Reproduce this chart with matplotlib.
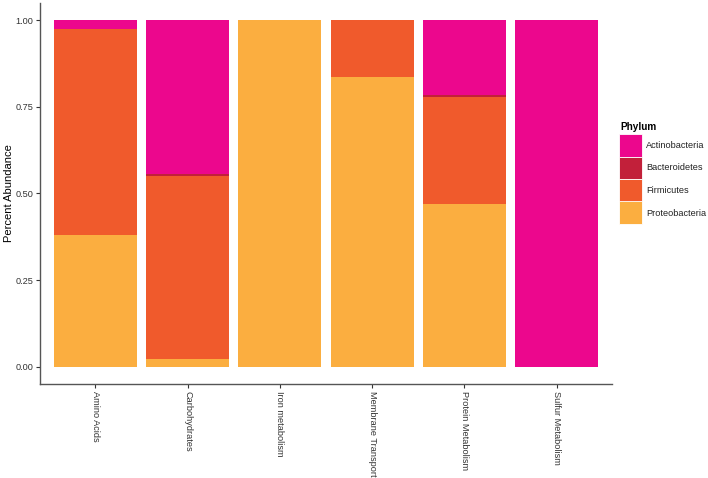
import numpy as np
import matplotlib
matplotlib.use('Agg')
import matplotlib.pyplot as plt
from matplotlib.patches import Rectangle

plt.rcParams['font.family'] = ['Liberation Sans', 'DejaVu Sans']

categories = ['Amino Acids', 'Carbohydrates', 'Iron metabolism',
              'Membrane Transport', 'Protein Metabolism', 'Sulfur Metabolism']
phyla = ['Actinobacteria', 'Bacteroidetes', 'Firmicutes', 'Proteobacteria']

# fractions per category, stacked bottom -> top: Proteo, Firmicutes, Bacteroidetes, Actino
proteobacteria = [0.38, 0.022, 1.0, 0.835, 0.47, 0.0]
firmicutes = [0.595, 0.528, 0.0, 0.165, 0.31, 0.0]
bacteroidetes = [0.0, 0.005, 0.0, 0.0, 0.005, 0.0]
actinobacteria = [0.025, 0.445, 0.0, 0.0, 0.215, 1.0]

colors = {'Actinobacteria': '#EC078D', 'Bacteroidetes': '#C2203A',
          'Firmicutes': '#F05A2C', 'Proteobacteria': '#FBAE40'}

W, H = 708, 478
fig = plt.figure(figsize=(W/100, H/100), dpi=100)
ax = fig.add_axes([40/W, 1-384/H, 572/W, 381/H])

x = np.arange(1, len(categories)+1)
bottom = np.zeros(len(categories))
for name, vals in [('Proteobacteria', proteobacteria), ('Firmicutes', firmicutes),
                   ('Bacteroidetes', bacteroidetes), ('Actinobacteria', actinobacteria)]:
    ax.bar(x, vals, bottom=bottom, width=0.9, color=colors[name], linewidth=0)
    bottom += np.array(vals)

ax.set_xlim(0.4, 6.6)
ax.set_ylim(-0.05, 1.05)
ax.set_yticks([0, 0.25, 0.5, 0.75, 1.0])
ax.set_yticklabels(['0.00', '0.25', '0.50', '0.75', '1.00'])
ax.set_xticks(x)
ax.set_xticklabels(categories, rotation=270, ha='center', va='top')
ax.tick_params(labelsize=6.6, labelcolor='#333333', color='#333333',
               length=3, width=0.8, pad=2)
for s in ['top', 'right']:
    ax.spines[s].set_visible(False)
for s in ['left', 'bottom']:
    ax.spines[s].set_color('#555555')
    ax.spines[s].set_linewidth(1.0)
ax.set_ylabel('Percent Abundance', fontsize=8, labelpad=1)

# legend drawn by hand: keys stacked with no gaps, ggplot style
fig.text(620/W, 1-127/H, 'Phylum', fontsize=7.2, fontweight='bold', va='center', ha='left')
for i, p in enumerate(phyla):
    top = 134 + 22.5*i
    fig.add_artist(Rectangle((619/W, 1-(top+22.5)/H), 23/W, 22.5/H,
                             transform=fig.transFigure, facecolor=colors[p],
                             edgecolor='white', linewidth=0.6))
    fig.text(646/W, 1-(top+11.5)/H, p, fontsize=6.6, va='center', ha='left',
             color='#222222')

fig.savefig('out.png', dpi=100)
